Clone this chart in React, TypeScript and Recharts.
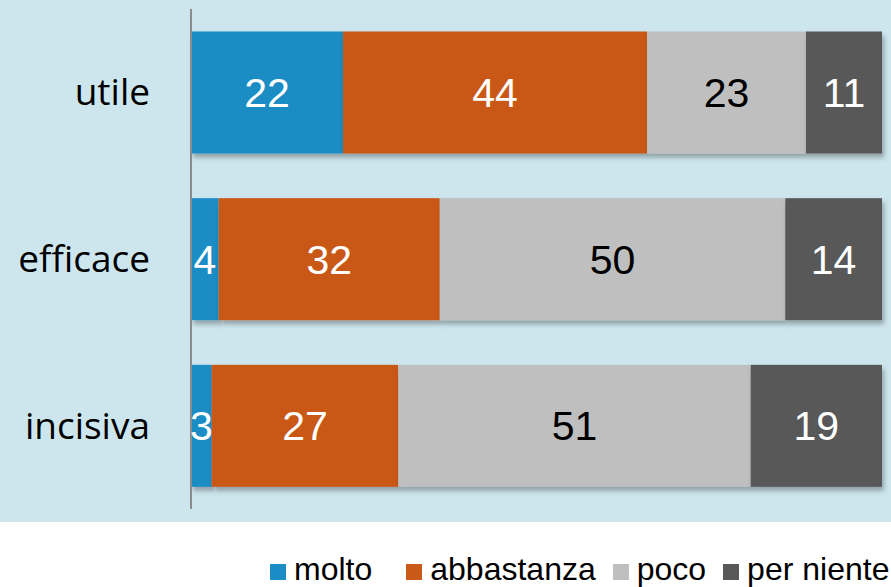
import { Bar, BarChart, LabelList, XAxis, YAxis } from "recharts";

const categories = ["utile", "efficace", "incisiva"];
const molto = [22, 4, 3];
const abbastanza = [44, 32, 27];
const poco = [23, 50, 51];
const perNiente = [11, 14, 19];

const seriesNames = ["molto", "abbastanza", "poco", "per niente"];
const seriesKeys = ["molto", "abbastanza", "poco", "perNiente"];
const seriesColors = ["#1b8cc5", "#c95916", "#bfbfbf", "#595959"];
const labelColors = ["#ffffff", "#ffffff", "#000000", "#ffffff"];

const rows = categories.map((name, i) => ({
  name,
  molto: molto[i],
  abbastanza: abbastanza[i],
  poco: poco[i],
  perNiente: perNiente[i],
}));

const numFont = "'Liberation Sans', Arial, sans-serif";

function ShadowRect(props: any) {
  const { x, y, width, height, fill } = props;
  if (width == null || height == null) return null;
  return <rect x={x} y={y} width={width} height={height} fill={fill} filter="url(#barShadow)" />;
}

export default function App() {
  return (
    <div style={{ position: "absolute", left: 0, top: 0, width: 891, height: 587, background: "#fff" }}>
      <div style={{ position: "absolute", left: 0, top: 0, width: 891, height: 522, background: "#cde6ee" }} />
      <div style={{ position: "absolute", left: 0, top: 0 }}>
        <BarChart
          width={891}
          height={587}
          data={rows}
          layout="vertical"
          margin={{ top: 9, right: 9, bottom: 78, left: 0 }}
          barCategoryGap="13.5%"
        >
          <defs>
            <filter id="barShadow" x="-5%" y="-5%" width="115%" height="120%">
              <feDropShadow dx="2" dy="4" stdDeviation="2.5" floodColor="#000" floodOpacity="0.3" />
            </filter>
          </defs>
          <XAxis type="number" domain={[0, 100]} hide />
          <YAxis
            type="category"
            dataKey="name"
            width={191}
            tickLine={false}
            axisLine={{ stroke: "#8c8c8c", strokeWidth: 2 }}
            tick={{ fill: "#000", fontSize: 37, fontFamily: "'Open Sans', sans-serif" }}
            tickMargin={35}
          />
          {seriesKeys.map((key, i) => (
            <Bar
              key={key}
              dataKey={key}
              name={seriesNames[i]}
              stackId="a"
              fill={seriesColors[i]}
              shape={<ShadowRect />}
              isAnimationActive={false}
            >
              <LabelList
                dataKey={key}
                position="center"
                fill={labelColors[i]}
                style={{ fontSize: 41, fontFamily: numFont }}
              />
            </Bar>
          ))}
        </BarChart>
      </div>
      <div
        style={{
          position: "absolute",
          left: 270,
          top: 551,
          display: "flex",
          alignItems: "center",
          fontFamily: numFont,
          fontSize: 32,
          color: "#000",
          whiteSpace: "nowrap",
        }}
      >
        {seriesNames.map((n, i) => (
          <div key={n} style={{ display: "flex", alignItems: "center", marginRight: i === 0 ? 34 : 17 }}>
            <span style={{ width: 16, height: 16, background: seriesColors[i], marginRight: 8, marginTop: 4 }} />
            <span>{n}</span>
          </div>
        ))}
      </div>
    </div>
  );
}
